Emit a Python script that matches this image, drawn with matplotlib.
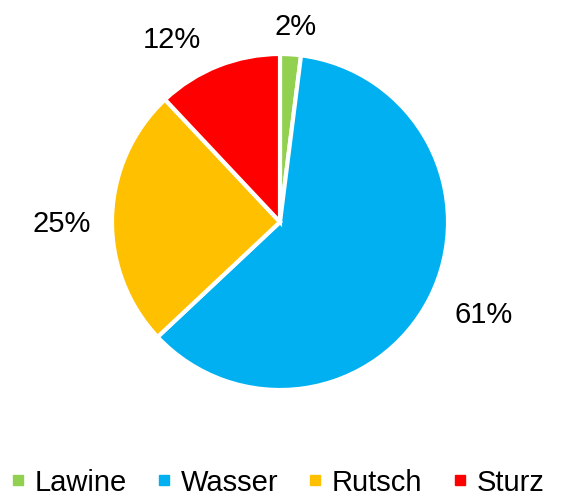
import matplotlib
matplotlib.use("Agg")
import matplotlib.pyplot as plt
from matplotlib.lines import Line2D
import numpy as np

categories = ["Lawine", "Wasser", "Rutsch", "Sturz"]
values = [2, 61, 25, 12]
labels = ["2%", "61%", "25%", "12%"]
colors = ["#92D050", "#00B0F0", "#FFC000", "#FF0000"]

plt.rcParams['font.family'] = ['Liberation Sans', 'DejaVu Sans']

fig = plt.figure(figsize=(5.68, 4.99), dpi=100)
ax = fig.add_axes([112/568, (499-222-168)/499, 336/568, 336/499])
wedges, _ = ax.pie(values, colors=colors, startangle=90, counterclock=False,
                   wedgeprops=dict(edgecolor='white', linewidth=3))
ax.set_xlim(-1, 1)
ax.set_ylim(-1, 1)

# label offsets (pixels) from the wedge's outer mid-point to the label's baseline centre
offsets = [(5.5, 19.5), (54, -24.5), (-50, -15.5), (-46.5, 18)]
for w, lab, (dx, dy) in zip(wedges, labels, offsets):
    ang = np.deg2rad((w.theta1 + w.theta2) / 2)
    ax.annotate(lab, xy=(np.cos(ang), np.sin(ang)), xytext=(dx, dy),
                textcoords='offset pixels', ha='center', va='baseline',
                fontsize=21, color='black', annotation_clip=False)

handles = [Line2D([], [], marker='s', linestyle='none', markersize=6.5,
                  markerfacecolor=c, markeredgecolor=c) for c in colors]
fig.legend(handles, categories, loc='lower center', bbox_to_anchor=(0.4886, -0.036),
           ncol=4, frameon=False, fontsize=21, handletextpad=0.32,
           columnspacing=1.02, handlelength=0.5, borderpad=0.2)

fig.savefig("out.png", dpi=100)
